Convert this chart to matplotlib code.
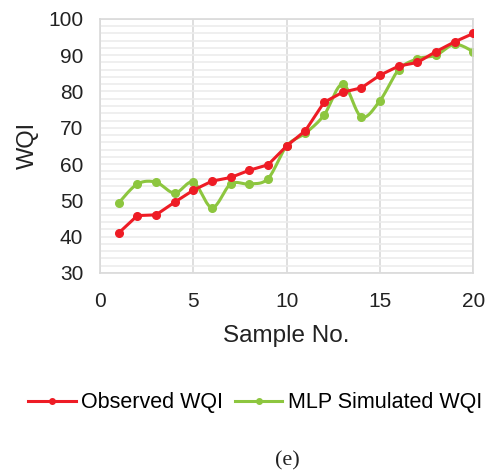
import numpy as np
import matplotlib
matplotlib.use('Agg')
import matplotlib.pyplot as plt
from matplotlib.ticker import MultipleLocator

# Data
sample_no = [1, 2, 3, 4, 5, 6, 7, 8, 9, 10, 11, 12, 13, 14, 15, 16, 17, 18, 19, 20]
observed_wqi = [41, 45.8, 46, 49.5, 52.8, 55.3, 56.3, 58.3, 59.8, 65, 69.2, 77, 79.8, 81, 84.5, 87, 88, 91, 93.7, 96]
mlp_wqi = [49.3, 54.5, 55, 52, 55, 48, 54.5, 54.5, 56, 65, 68.5, 73.5, 82, 73, 77.5, 86, 89, 90, 93, 91]

plt.rcParams['font.family'] = 'Liberation Sans'


def smooth_path(x, y, n=20):
    # Catmull-Rom curve through the points (like Excel's smoothed line)
    x = np.asarray(x, float)
    y = np.asarray(y, float)
    px = np.concatenate([[x[0]], x, [x[-1]]])
    py = np.concatenate([[y[0]], y, [y[-1]]])
    xs, ys = [], []
    t = np.linspace(0, 1, n, endpoint=False)
    for i in range(1, len(px) - 2):
        for arr, out in ((px, xs), (py, ys)):
            p0, p1, p2, p3 = arr[i - 1], arr[i], arr[i + 1], arr[i + 2]
            m1 = (p2 - p0) / 2
            m2 = (p3 - p1) / 2
            h00 = 2 * t**3 - 3 * t**2 + 1
            h10 = t**3 - 2 * t**2 + t
            h01 = -2 * t**3 + 3 * t**2
            h11 = t**3 - t**2
            out.extend(h00 * p1 + h10 * m1 + h01 * p2 + h11 * m2)
    xs.append(x[-1])
    ys.append(y[-1])
    return xs, ys


red = '#ee1c25'
green = '#8dc63f'
txt = '#222222'

fig = plt.figure(figsize=(4.88, 4.73), dpi=100)
ax = fig.add_axes([0.205, 0.423, 0.765, 0.537])

ax.plot(sample_no, observed_wqi, color=red, lw=2.2, marker='o', ms=5.5, zorder=3)
gx, gy = smooth_path(sample_no, mlp_wqi)
ax.plot(gx, gy, color=green, lw=2.2, zorder=2)
ax.plot(sample_no, mlp_wqi, color=green, lw=0, marker='o', ms=5.5, zorder=2)

ax.set_xlim(0, 20)
ax.set_ylim(30, 100)
ax.xaxis.set_major_locator(MultipleLocator(5))
ax.yaxis.set_major_locator(MultipleLocator(10))
ax.yaxis.set_minor_locator(MultipleLocator(2))
ax.grid(axis='x', which='major', color='#d9d9d9', lw=1.2)
ax.grid(axis='y', which='both', color='#ececec', lw=1.2)
ax.set_axisbelow(True)
ax.tick_params(which='both', length=0, labelsize=15, colors=txt)
ax.tick_params(axis='y', pad=12)
ax.tick_params(axis='x', pad=13.5)
for s in ax.spines.values():
    s.set_color('#d9d9d9')
    s.set_linewidth(1.2)

ax.set_xlabel('Sample No.', fontsize=17.5, color=txt, labelpad=10)
ax.set_ylabel('WQI', fontsize=17, color=txt, labelpad=7)

h1, = ax.plot([], [], color=red, lw=2.2, marker='o', ms=4)
h2, = ax.plot([], [], color=green, lw=2.2, marker='o', ms=4)
fig.legend([h1, h2], ['Observed WQI', 'MLP Simulated WQI'], loc='center',
           bbox_to_anchor=(0.523, 0.148), ncol=2, frameon=False, fontsize=15.5,
           handlelength=2.2, handletextpad=0.25, columnspacing=0.55,
           borderpad=0, borderaxespad=0)

fig.text(0.588, 0.025, '(e)', ha='center', va='center', fontsize=16,
         family='Liberation Serif', color=txt)

fig.savefig('out.png', dpi=100)
